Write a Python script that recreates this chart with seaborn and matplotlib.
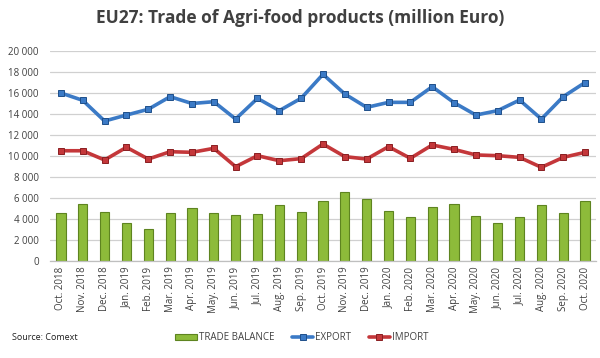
import matplotlib
matplotlib.use("Agg")
import matplotlib.pyplot as plt
import seaborn as sns
import numpy as np
import pandas as pd
from matplotlib.lines import Line2D
from matplotlib.patches import Patch
from matplotlib.ticker import FuncFormatter

months = ["Oct. 2018", "Nov. 2018", "Dec. 2018", "Jan. 2019", "Feb. 2019", "Mar. 2019",
          "Apr. 2019", "May. 2019", "Jun. 2019", "Jul. 2019", "Aug. 2019", "Sep. 2019",
          "Oct. 2019", "Nov. 2019", "Dec. 2019", "Jan. 2020", "Feb. 2020", "Mar. 2020",
          "Apr. 2020", "May. 2020", "Jun. 2020", "Jul. 2020", "Aug. 2020", "Sep. 2020",
          "Oct. 2020"]
export = [16000, 15300, 13330, 13900, 14450, 15650, 15000, 15170, 13520, 15490, 14320, 15500,
          17780, 15900, 14630, 15110, 15110, 16600, 15080, 13900, 14320, 15330, 13520, 15650,
          17000]
imports = [10500, 10500, 9620, 10830, 9710, 10410, 10350, 10730, 8980, 10030, 9550, 9750,
           11140, 9940, 9710, 10890, 9780, 11050, 10630, 10100, 10030, 9870, 8920, 9870,
           10350]
balance = [4540, 5430, 4700, 3590, 3020, 4600, 5080, 4600, 4350, 4440, 5330, 4700,
           5740, 6540, 5900, 4790, 4160, 5170, 5400, 4320, 3650, 4160, 5330, 4540,
           5740]

df = pd.DataFrame({"month": months, "export": export, "import": imports, "balance": balance})

sns.set_theme(style="white")
plt.rcParams["font.family"] = ["Open Sans", "DejaVu Sans"]

fig = plt.figure(figsize=(6, 3.58), dpi=100)
ax = fig.add_axes([50/600, 1-261/358, 546/600, 210/358])

green = "#8DBB3A"
blue = "#3B7AC6"
red = "#C4373A"

sns.barplot(data=df, x="month", y="balance", color=green, width=0.42,
            edgecolor="#5E8420", linewidth=0.8, saturation=1, ax=ax, zorder=2)
sns.pointplot(data=df, x="month", y="export", color=blue, markers="s",
              markersize=5, linewidth=2.6, ax=ax, zorder=4,
              markeredgecolor="#1F4F8A", markeredgewidth=0.7)
sns.pointplot(data=df, x="month", y="import", color=red, markers="s",
              markersize=5, linewidth=2.6, ax=ax, zorder=4,
              markeredgecolor="#8A1F22", markeredgewidth=0.7)

ax.set_xlim(-0.5, len(months) - 0.5)
ax.set_ylim(0, 20000)
ax.set_yticks(np.arange(0, 20001, 2000))
ax.yaxis.set_major_formatter(FuncFormatter(lambda v, p: f"{int(v):,}".replace(",", " ")))
ax.grid(axis="y", color="#D0D0D0", linewidth=0.9, zorder=0)
ax.set_axisbelow(True)
for s in ["left", "right", "top"]:
    ax.spines[s].set_visible(False)
ax.spines["bottom"].set_color("#BFBFBF")
ax.spines["bottom"].set_linewidth(0.9)
ax.set_xlabel("")
ax.set_ylabel("")
ax.tick_params(axis="x", labelrotation=90, labelsize=7, colors="#404040", length=0, pad=4)
ax.tick_params(axis="y", labelsize=7, colors="#404040", length=0, pad=8)

fig.text(0.5, 1-18/358, "EU27: Trade of Agri-food products (million Euro)",
         ha="center", va="center", fontsize=12.5, fontweight="bold", color="#404040")
fig.text(12/600, 1-338/358, "Source: Comext", ha="left", va="center",
         fontsize=6.5, color="#202020")

handles = [
    Patch(facecolor=green, edgecolor="#5E8420", linewidth=0.8),
    Line2D([0], [0], color=blue, lw=2.6, marker="s", markersize=5,
           markeredgecolor="#1F4F8A", markeredgewidth=0.7),
    Line2D([0], [0], color=red, lw=2.6, marker="s", markersize=5,
           markeredgecolor="#8A1F22", markeredgewidth=0.7),
]
leg = fig.legend(handles, ["TRADE BALANCE", "EXPORT", "IMPORT"], loc="center",
                 bbox_to_anchor=(302/600, 1-338/358), ncol=3, frameon=False,
                 fontsize=7, handlelength=2.2, handleheight=0.5, handletextpad=0.2,
                 columnspacing=1.8)
for t in leg.get_texts():
    t.set_color("#404040")

fig.savefig("out.png", dpi=100)
